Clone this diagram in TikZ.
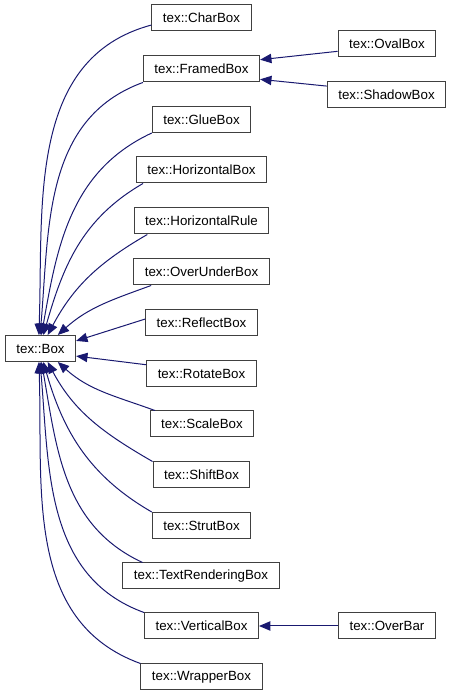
\documentclass[tikz,border=0pt]{standalone}
\usepackage{fontspec}
\setsansfont{Liberation Sans}
\usetikzlibrary{arrows.meta}

\definecolor{inhblue}{HTML}{191970}

\begin{document}
\begin{tikzpicture}[
  x=0.75pt, y=0.75pt,
  font=\sffamily\fontsize{10}{12}\selectfont,
  classb/.style={draw=black!75, line width=0.75pt, fill=white, inner xsep=8.3pt,
                 inner ysep=0pt, minimum height=19.5pt},
  arr/.style={-{Stealth[length=8.5pt, width=7pt, inset=0pt]}, line width=0.75pt, inhblue},
]
\useasboundingbox (0,0) rectangle (452,696);

% ---- base class ----
\node[classb] (box) at (40.5,347.5) {tex::Box};

% ---- derived classes, top to bottom ----
\node[classb] (charbox)   at (201.5,678) {tex::CharBox};
\node[classb] (framed)    at (201.5,627) {tex::FramedBox};
\node[classb] (glue)      at (201.5,576.5) {tex::GlueBox};
\node[classb] (hbox)      at (201.5,526) {tex::HorizontalBox};
\node[classb] (hrule)     at (201.5,475) {tex::HorizontalRule};
\node[classb] (overunder) at (201.5,424) {tex::OverUnderBox};
\node[classb] (reflect)   at (201.5,373) {tex::ReflectBox};
\node[classb] (rotate)    at (201.5,322.5) {tex::RotateBox};
\node[classb] (scale)     at (202,272) {tex::ScaleBox};
\node[classb] (shift)     at (201.5,221) {tex::ShiftBox};
\node[classb] (strut)     at (201.5,170.5) {tex::StrutBox};
\node[classb] (textrend)  at (201,120) {tex::TextRenderingBox};
\node[classb] (vbox)      at (201.5,70) {tex::VerticalBox};
\node[classb] (wrapper)   at (201.5,19) {tex::WrapperBox};

% ---- third level ----
\node[classb] (oval)    at (387,652.5) {tex::OvalBox};
\node[classb] (shadow)  at (386.5,601.5) {tex::ShadowBox};
\node[classb] (overbar) at (387,70) {tex::OverBar};

% ---- inheritance edges into tex::Box ----
\draw[arr] (charbox.188) to[out=195, in=88] (box.97);
\draw[arr] (framed.south west) to[out=200, in=85] (box.92);
\draw[arr] (glue.south west) to[out=205, in=80] (box.86);
\draw[arr] (hbox.193) to[out=210, in=74] (box.78);
\draw[arr] (hrule.194) to[out=210, in=62] (box.62);
\draw[arr] (overunder.195) to[out=200, in=42] (box.38);
\draw[arr] (reflect.176) -- (box.12);
\draw[arr] (rotate.171) -- (box.-12);
\draw[arr] (scale.164) to[out=160, in=-42] (box.-38);
\draw[arr] (shift.north west) to[out=150, in=-62] (box.-62);
\draw[arr] (strut.north west) to[out=150, in=-74] (box.-78);
\draw[arr] (textrend.167) to[out=155, in=-80] (box.-86);
\draw[arr] (vbox.north west) to[out=160, in=-85] (box.-92);
\draw[arr] (wrapper.north west) to[out=160, in=-88] (box.-97);

% ---- second level edges ----
\draw[arr] (oval.189) -- (framed.9);
\draw[arr] (shadow.172) -- (framed.-10);
\draw[arr] (overbar) -- (vbox);

\end{tikzpicture}
\end{document}
